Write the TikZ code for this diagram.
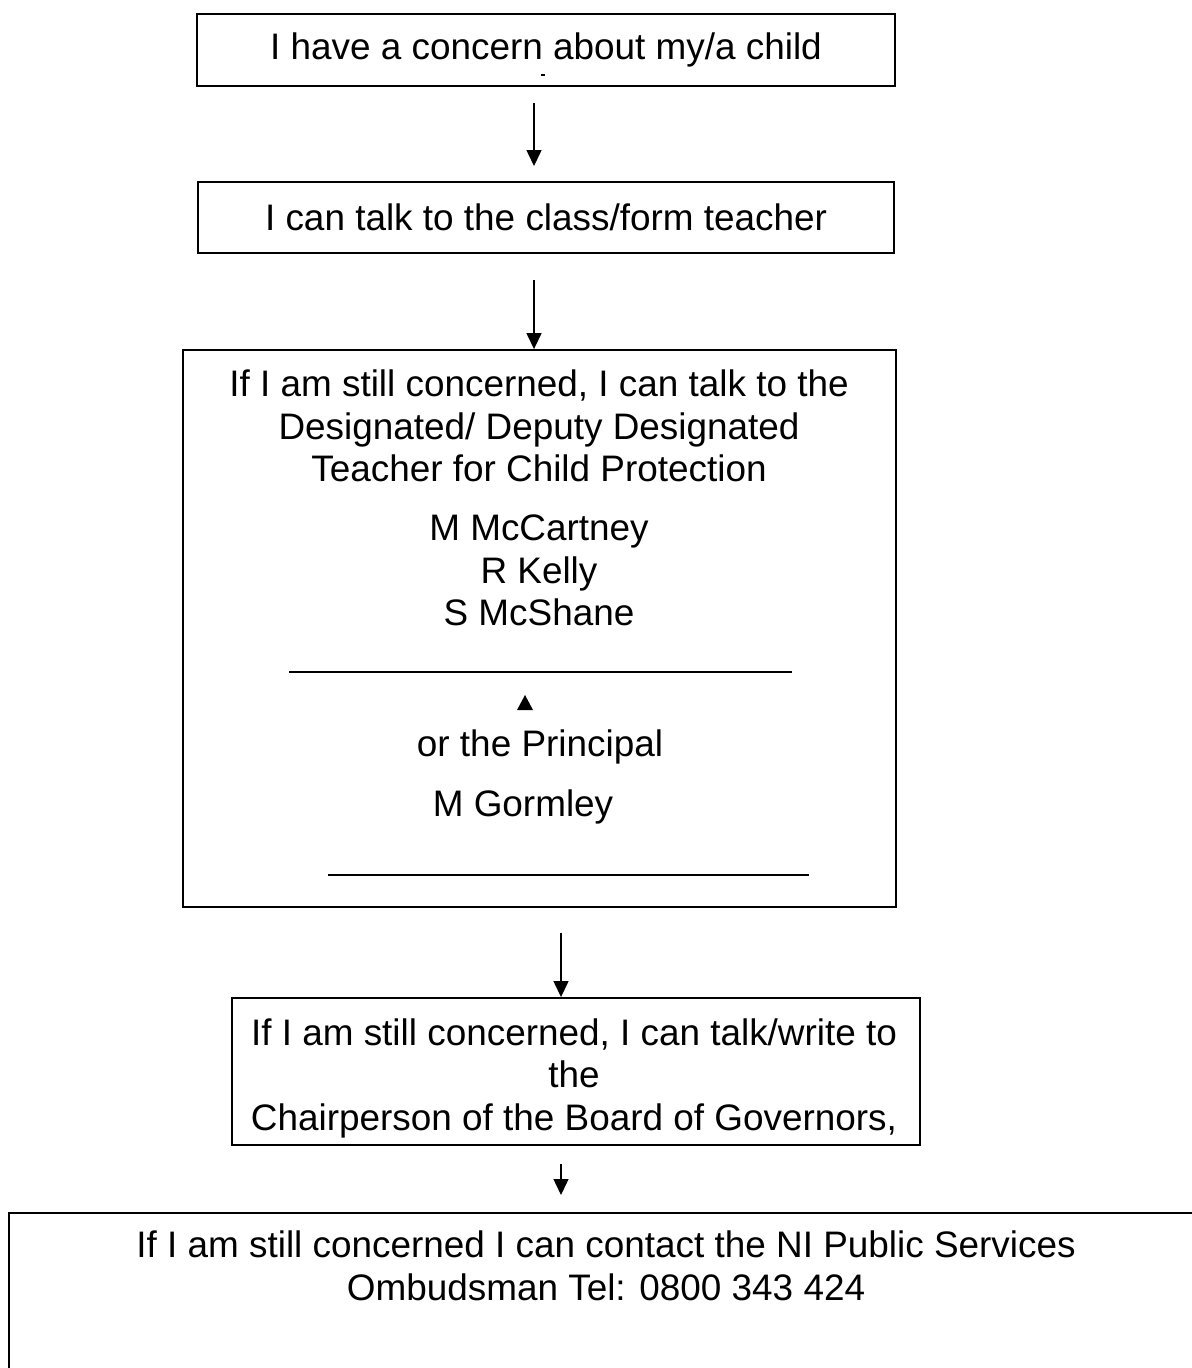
\documentclass[tikz,border=0pt]{standalone}
\usepackage{fontspec}
\setmainfont{Liberation Sans}
\usetikzlibrary{arrows.meta}

\begin{document}
\begin{tikzpicture}[x=0.02cm, y=-0.02cm,
  box/.style={draw, line width=1.1pt, inner sep=0pt, align=center, font=\fontsize{21}{24.2}\selectfont},
  txt/.style={inner sep=0pt, align=center, font=\fontsize{21}{24.2}\selectfont},
  arr/.style={-{Triangle[length=0.32cm,width=0.3cm]}, line width=0.75pt},
  rulebar/.style={line width=0.7pt}]
\useasboundingbox (0,0) rectangle (1192,1368);
\coordinate (c1) at (534,0);
\coordinate (c2) at (561,0);
\node[box, minimum width=13.96cm, minimum height=1.44cm] (concern) at (546,50) {I have a concern about my/a child};
\node[box, minimum width=13.94cm, minimum height=1.42cm] (teacher) at (546,217.5) {I can talk to the class/form teacher};
\node[box, minimum width=14.26cm, minimum height=11.14cm] (dt) at (539.5,628.5) {};
\node[txt] (dtA) at (539,426) {If I am still concerned, I can talk to the\\Designated/ Deputy Designated\\Teacher for Child Protection};
\node[txt] (dtB) at (539,570.5) {M McCartney\\R Kelly\\S McShane};
\node[txt] (principal) at (540,746.5) {or the Principal};
\node[txt] (gormley) at (523,806.5) {M Gormley};
\node[box, minimum width=13.76cm, minimum height=2.94cm] (chair) at (576,1071.5) {};
\node[txt] (chairtxt) at (574,1078) {If I am still concerned, I can talk/write to\\the\\Chairperson of the Board of Governors,};
\node[txt] (ombud) at (606,1266) {If I am still concerned I can contact the NI Public Services\\Ombudsman Tel: 0800 343 424};
\coordinate (ombudtl) at (9,1213);
\fill (541,74.5) rectangle (545,76);
\draw[rulebar] (289,672) -- (792,672);
\fill (517,710) -- (533,710) -- (525,695) -- cycle;
\draw[rulebar] (328,875) -- (809,875);
\draw[line width=1.1pt] (9,1368) |- (1192,1213);
\draw[arr, shorten <=0.32cm, shorten >=0.3cm] (concern.south -| c1) -- (teacher.north -| c1);
\draw[arr, shorten <=0.52cm] (teacher.south -| c1) -- (dt.north -| c1);
\draw[arr, shorten <=0.5cm] (dt.south -| c2) -- (chair.north -| c2);
\draw[arr, shorten <=0.36cm, shorten >=0.36cm] (chair.south -| c2) -- (ombudtl -| c2);
\end{tikzpicture}
\end{document}
